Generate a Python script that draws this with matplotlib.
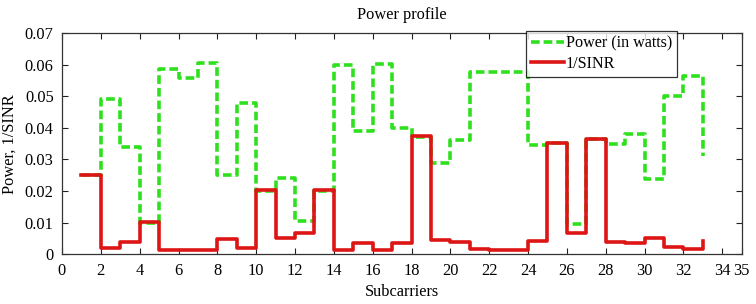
import matplotlib
matplotlib.use("Agg")
import matplotlib.pyplot as plt
import numpy as np

plt.rcParams['font.family'] = ['Liberation Serif', 'DejaVu Serif']

subcarriers = list(range(1, 34))
power = [0.025, 0.049, 0.034, 0.010, 0.0587, 0.0558, 0.0605, 0.025, 0.048,
         0.020, 0.024, 0.0106, 0.020, 0.060, 0.039, 0.0603, 0.040, 0.037,
         0.029, 0.036, 0.0576, 0.0576, 0.0576, 0.0346, 0.0353, 0.0095,
         0.0365, 0.0348, 0.038, 0.0237, 0.050, 0.0565, 0.031]
inv_sinr = [0.025, 0.0021, 0.0039, 0.0103, 0.0013, 0.0014, 0.0012, 0.0047,
            0.0021, 0.0203, 0.0050, 0.0068, 0.0203, 0.0013, 0.0034, 0.0013,
            0.0035, 0.0375, 0.0044, 0.0037, 0.0015, 0.0013, 0.0013, 0.0041,
            0.0353, 0.0066, 0.0365, 0.0039, 0.0034, 0.0050, 0.0023, 0.0015,
            0.0042]
xticks = list(range(0, 35, 2)) + [35]
yticks = [0, 0.01, 0.02, 0.03, 0.04, 0.05, 0.06, 0.07]
ytick_labels = ['0', '0.01', '0.02', '0.03', '0.04', '0.05', '0.06', '0.07']

fig = plt.figure(figsize=(7.56, 3.04), dpi=100)
ax = fig.add_axes([0.082, 0.164, 0.899, 0.727])

ax.plot(subcarriers, power, drawstyle='steps-post', color='#2ee01e',
        linestyle=(0, (2.4, 1.1)), linewidth=2.6, label='Power (in watts)')
ax.plot(subcarriers, inv_sinr, drawstyle='steps-post', color='#dd1515',
        linewidth=2.6, label='1/SINR')

ax.set_xlim(0, 35)
ax.set_ylim(0, 0.07)
ax.set_xticks(xticks)
ax.set_xticklabels([str(t) for t in xticks])
ax.set_yticks(yticks)
ax.set_yticklabels(ytick_labels)
ax.tick_params(direction='in', top=True, right=True, labelsize=11.8, length=4,
               width=0.8, colors='#222222', labelcolor='black')
ax.tick_params(axis='x', pad=6.5)
ax.tick_params(axis='y', pad=6.0)
for s in ax.spines.values():
    s.set_linewidth(0.9)
    s.set_color('#333333')

ax.set_title('Power profile', fontsize=11.8, pad=10)
ax.set_xlabel('Subcarriers', fontsize=11.8, labelpad=3.5)
ax.set_ylabel('Power, 1/SINR', fontsize=11.8, labelpad=5)

leg = ax.legend(loc='upper right', bbox_to_anchor=(0.905, 1.01), fontsize=11.6,
                frameon=True, fancybox=False, handlelength=2.1,
                handletextpad=0.1, borderpad=0.3, labelspacing=0.25,
                borderaxespad=0)
leg.get_frame().set_edgecolor('black')
leg.get_frame().set_linewidth(0.9)

fig.savefig('out.png', dpi=100)
